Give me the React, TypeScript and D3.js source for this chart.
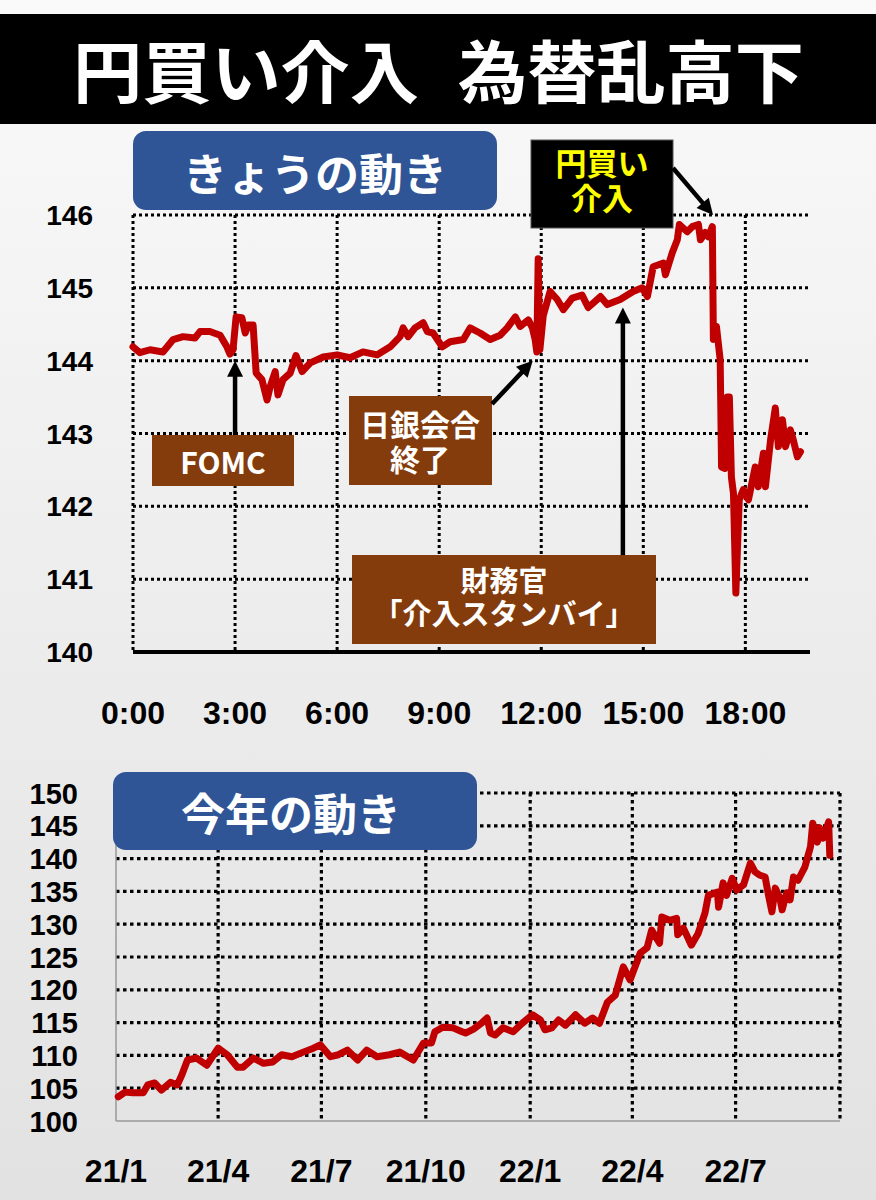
import React from 'react';
import * as d3 from 'd3';

const W = 876;
const H = 1200;
const FONT = "'Noto Sans CJK JP', 'Noto Sans', sans-serif";
const NUMFONT = "'Liberation Sans', Arial, sans-serif";

// ---- きょうの動き (intraday, hours since 0:00) ----
const todayHours = [
  0.0, 0.2, 0.5, 0.88, 1.18, 1.47, 1.82, 1.97, 2.26, 2.56, 2.76, 2.85, 2.94, 3.03, 3.2, 3.3, 3.38, 3.53,
  3.62, 3.79, 3.94, 4.03, 4.18, 4.26, 4.41, 4.62, 4.79, 4.97, 5.21, 5.59, 6.0, 6.38, 6.76, 7.18, 7.56,
  7.85, 7.94, 8.09, 8.29, 8.53, 8.65, 8.82, 9.09, 9.32, 9.71, 9.91, 10.2, 10.5, 10.79, 11.0, 11.24,
  11.38, 11.62, 11.74, 11.82, 11.87, 11.91, 11.96, 12.06, 12.26, 12.47, 12.65, 12.91, 13.2, 13.38,
  13.74, 13.94, 14.32, 14.7, 14.97, 15.12, 15.29, 15.59, 15.65, 15.85, 16.0, 16.06, 16.29, 16.44,
  16.62, 16.68, 16.82, 16.91, 17.03, 17.06, 17.15, 17.26, 17.3, 17.4, 17.47, 17.53, 17.59, 17.65,
  17.72, 17.82, 17.94, 18.09, 18.29, 18.38, 18.53, 18.59, 18.74, 18.88, 18.97, 19.09, 19.18, 19.32,
  19.41, 19.53, 19.62,
];
const todayRates = [
  144.19, 144.11, 144.15, 144.12, 144.29, 144.33, 144.31, 144.4, 144.4, 144.35, 144.19, 144.09, 144.15,
  144.6, 144.59, 144.38, 144.49, 144.49, 143.83, 143.74, 143.46, 143.64, 143.85, 143.53, 143.74, 143.83,
  144.07, 143.85, 143.97, 144.05, 144.08, 144.04, 144.12, 144.08, 144.19, 144.33, 144.45, 144.33,
  144.45, 144.52, 144.4, 144.38, 144.19, 144.26, 144.29, 144.45, 144.38, 144.29, 144.35, 144.45,
  144.6, 144.47, 144.56, 144.45, 144.29, 144.12, 145.4, 144.15, 144.62, 144.95, 144.84, 144.7, 144.86,
  144.9, 144.73, 144.88, 144.77, 144.84, 144.95, 145.0, 144.88, 145.29, 145.34, 145.18, 145.48, 145.66,
  145.87, 145.77, 145.84, 145.87, 145.66, 145.76, 145.7, 145.84, 144.29, 144.47, 144.01, 142.54,
  142.52, 143.5, 143.5, 142.4, 142.18, 140.81, 142.09, 142.23, 142.09, 142.54, 142.27, 142.73, 142.27,
  142.91, 143.35, 142.82, 143.19, 142.82, 143.05, 142.91, 142.68, 142.75,
];
const todayTickHours = [0, 3, 6, 9, 12, 15, 18];
const todayTickLabels = ['0:00', '3:00', '6:00', '9:00', '12:00', '15:00', '18:00'];
const todayYTicks = [140, 141, 142, 143, 144, 145, 146];

// ---- 今年の動き (daily) ----
const yearDates = [
  '2021-01-03', '2021-01-09', '2021-01-16', '2021-01-25', '2021-01-29', '2021-02-04', '2021-02-10',
  '2021-02-18', '2021-02-24', '2021-02-28', '2021-03-05', '2021-03-13', '2021-03-22', '2021-04-01',
  '2021-04-09', '2021-04-18', '2021-04-23', '2021-05-02', '2021-05-11', '2021-05-19', '2021-05-27',
  '2021-06-05', '2021-06-15', '2021-06-24', '2021-06-30', '2021-07-09', '2021-07-16', '2021-07-24',
  '2021-08-02', '2021-08-10', '2021-08-19', '2021-08-30', '2021-09-08', '2021-09-20', '2021-09-29',
  '2021-10-06', '2021-10-09', '2021-10-16', '2021-10-25', '2021-11-02', '2021-11-05', '2021-11-12',
  '2021-11-19', '2021-11-24', '2021-11-27', '2021-12-01', '2021-12-08', '2021-12-17', '2021-12-25',
  '2022-01-03', '2022-01-10', '2022-01-14', '2022-01-20', '2022-01-26', '2022-02-01', '2022-02-10',
  '2022-02-18', '2022-02-25', '2022-03-03', '2022-03-10', '2022-03-17', '2022-03-24', '2022-03-30',
  '2022-04-08', '2022-04-14', '2022-04-18', '2022-04-25', '2022-04-27', '2022-05-04', '2022-05-10',
  '2022-05-11', '2022-05-16', '2022-05-23', '2022-05-29', '2022-06-04', '2022-06-07', '2022-06-15',
  '2022-06-16', '2022-06-20', '2022-06-23', '2022-06-28', '2022-07-02', '2022-07-08', '2022-07-14',
  '2022-07-18', '2022-07-22', '2022-07-27', '2022-07-30', '2022-08-02', '2022-08-05', '2022-08-09',
  '2022-08-11', '2022-08-15', '2022-08-18', '2022-08-21', '2022-08-25', '2022-08-31', '2022-09-05',
  '2022-09-07', '2022-09-11', '2022-09-13', '2022-09-16', '2022-09-21', '2022-09-22',
];
const yearRates = [
  103.7, 104.4, 104.3, 104.3, 105.5, 105.8, 104.7, 105.9, 105.5, 107.0, 109.3, 109.6, 108.5, 111.1,
  110.1, 108.2, 108.2, 109.6, 108.8, 109.0, 110.1, 109.8, 110.5, 111.1, 111.6, 109.8, 110.1, 110.8,
  109.3, 110.8, 109.8, 110.1, 110.5, 109.3, 111.9, 111.9, 113.6, 114.3, 114.2, 113.6, 113.4, 114.0,
  114.9, 115.7, 113.4, 113.1, 114.2, 113.6, 114.9, 116.2, 115.4, 113.9, 114.2, 115.4, 114.6, 116.2,
  114.9, 115.7, 114.9, 118.1, 119.2, 123.5, 121.5, 125.6, 126.4, 129.1, 127.1, 131.1, 130.6, 130.9,
  128.4, 129.4, 126.8, 128.6, 131.7, 134.4, 134.9, 132.6, 136.3, 134.4, 137.0, 135.2, 136.0, 139.3,
  138.0, 137.5, 137.2, 134.4, 131.9, 135.5, 134.0, 132.2, 134.8, 133.7, 137.2, 136.7, 138.7, 141.8,
  145.4, 142.5, 144.7, 143.1, 145.6, 140.5,
];
const yearTickDates = ['2021-04-01', '2021-07-01', '2021-10-01', '2022-01-01', '2022-04-01', '2022-07-01'];
const yearLabelDates = ['2021-01-01', '2021-04-01', '2021-07-01', '2021-10-01', '2022-01-01', '2022-04-01', '2022-07-01'];
const yearTickLabels = ['21/1', '21/4', '21/7', '21/10', '22/1', '22/4', '22/7'];
const yearYTicks = [100, 105, 110, 115, 120, 125, 130, 135, 140, 145, 150];

const RED = '#c00000';
const BLUE = '#2f5597';
const BROWN = '#843c0c';

const parse = d3.timeParse('%Y-%m-%d');

function Arrow({ x1, y1, x2, y2 }: { x1: number; y1: number; x2: number; y2: number }) {
  const dx = x2 - x1;
  const dy = y2 - y1;
  const len = Math.sqrt(dx * dx + dy * dy);
  const ux = dx / len;
  const uy = dy / len;
  const hl = 16;
  const hw = 8;
  const bx = x2 - ux * hl;
  const by = y2 - uy * hl;
  const pts = [
    [x2, y2],
    [bx - uy * hw, by + ux * hw],
    [bx + uy * hw, by - ux * hw],
  ]
    .map((p) => p.join(','))
    .join(' ');
  return (
    <g>
      <line x1={x1} y1={y1} x2={bx + ux * 2} y2={by + uy * 2} stroke="#000" strokeWidth={4.5} />
      <polygon points={pts} fill="#000" />
    </g>
  );
}

function TwoLines({
  x,
  y1,
  y2,
  a,
  b,
  fill,
  size,
}: {
  x: number;
  y1: number;
  y2: number;
  a: string;
  b: string;
  fill: string;
  size: number;
}) {
  return (
    <text textAnchor="middle" fill={fill} fontSize={size} fontWeight={700}>
      <tspan x={x} y={y1 + size * 0.36}>
        {a}
      </tspan>
      <tspan x={x} y={y2 + size * 0.36}>
        {b}
      </tspan>
    </text>
  );
}

export default function App() {
  // top chart scales
  const xT = d3.scaleLinear().domain([0, 19.9]).range([133, 810]);
  const yT = d3.scaleLinear().domain([140, 146]).range([652, 215]);
  // bottom chart scales
  const xY = d3
    .scaleTime()
    .domain([parse('2021-01-01') as Date, parse('2022-10-01') as Date])
    .range([116, 840]);
  const yY = d3.scaleLinear().domain([100, 150]).range([1121, 793]);

  const todayData = todayHours.map((h, i) => [h, todayRates[i]] as [number, number]);
  const yearData = yearDates.map((d, i) => [parse(d) as Date, yearRates[i]] as [Date, number]);

  const lineT = d3
    .line<[number, number]>()
    .x((d) => xT(d[0]))
    .y((d) => yT(d[1]));
  const lineY = d3
    .line<[Date, number]>()
    .x((d) => xY(d[0]))
    .y((d) => yY(d[1]));

  const [x0T, x1T] = xT.range();
  const [yBotT, yTopT] = yT.range();
  const [x0Y, x1Y] = xY.range();
  const [yBotY, yTopY] = yY.range();

  const dotT = { stroke: '#000', strokeWidth: 3, strokeDasharray: '3,3' };
  const dotY = { stroke: '#000', strokeWidth: 3.2, strokeDasharray: '3.5,3.5' };

  return (
    <svg
      width={W}
      height={H}
      viewBox={`0 0 ${W} ${H}`}
      style={{ position: 'absolute', left: 0, top: 0, fontFamily: FONT }}
    >
      <defs>
        <linearGradient id="bg" x1="0" y1="0" x2="0" y2="1">
          <stop offset="0" stopColor="#fafafa" />
          <stop offset="0.45" stopColor="#eeeeee" />
          <stop offset="1" stopColor="#e2e2e2" />
        </linearGradient>
      </defs>
      <rect x={0} y={0} width={W} height={H} fill="url(#bg)" />

      {/* Title bar */}
      <rect x={0} y={14} width={W} height={110} fill="#000" />
      <text
        x={73}
        y={68}
        dominantBaseline="central"
        fill="#fff"
        fontSize={68}
        fontWeight={700}
        textLength={346}
        lengthAdjust="spacingAndGlyphs"
      >
        円買い介入
      </text>
      <text
        x={458}
        y={68}
        dominantBaseline="central"
        fill="#fff"
        fontSize={68}
        fontWeight={700}
        textLength={346}
        lengthAdjust="spacingAndGlyphs"
      >
        為替乱高下
      </text>

      {/* ===== Top chart ===== */}
      <g>
        {todayYTicks
          .filter((v) => v > 140)
          .map((v) => (
            <line key={'hy' + v} x1={x0T} x2={x1T} y1={yT(v)} y2={yT(v)} {...dotT} />
          ))}
        {todayTickHours.map((h) => (
          <line key={'vx' + h} x1={xT(h)} x2={xT(h)} y1={yTopT} y2={yBotT} {...dotT} />
        ))}
        <line x1={x0T} x2={x1T} y1={yBotT} y2={yBotT} stroke="#000" strokeWidth={4} />
        {todayYTicks.map((v) => (
          <text
            key={'ly' + v}
            x={93}
            y={yT(v) + 10}
            textAnchor="end"
            fontFamily={NUMFONT}
            fontSize={28}
            fontWeight={700}
            fill="#000"
          >
            {v}
          </text>
        ))}
        {todayTickHours.map((h, i) => (
          <text
            key={'lx' + h}
            x={xT(h)}
            y={724}
            textAnchor="middle"
            fontFamily={NUMFONT}
            fontSize={32}
            fontWeight={700}
            fill="#000"
          >
            {todayTickLabels[i]}
          </text>
        ))}
        <path
          d={lineT(todayData) || ''}
          fill="none"
          stroke={RED}
          strokeWidth={7}
          strokeLinejoin="round"
          strokeLinecap="round"
        />

        {/* label box */}
        <rect x={133} y={131} width={364} height={79} rx={13} fill={BLUE} />
        <text
          x={315}
          y={172}
          textAnchor="middle"
          dominantBaseline="central"
          fill="#fff"
          fontSize={44}
          fontWeight={700}
        >
          きょうの動き
        </text>

        {/* 円買い介入 */}
        <rect x={531} y={140} width={142} height={88} fill="#000" stroke="#555" strokeWidth={1} />
        <TwoLines x={602} y1={164} y2={199} a="円買い" b="介入" fill="#ffff00" size={31} />
        <Arrow x1={673} y1={168} x2={xT(17.05)} y2={yT(146)} />

        {/* FOMC */}
        <rect x={152} y={435} width={142} height={51} fill={BROWN} />
        <text x={223} y={461} textAnchor="middle" dominantBaseline="central" fill="#fff" fontSize={30} fontWeight={700}>
          FOMC
        </text>
        <Arrow x1={xT(3)} y1={435} x2={xT(3)} y2={yT(144.0)} />

        {/* 日銀会合終了 */}
        <rect x={349} y={396} width={143} height={89} fill={BROWN} />
        <TwoLines x={420} y1={425} y2={460} a="日銀会合" b="終了" fill="#fff" size={30} />
        <Arrow x1={492} y1={404} x2={xT(11.75)} y2={yT(144.0)} />

        {/* 財務官 */}
        <rect x={352} y={555} width={304} height={89} fill={BROWN} />
        <TwoLines x={504} y1={582} y2={615} a="財務官" b="「介入スタンバイ」" fill="#fff" size={29} />
        <Arrow x1={xT(14.4)} y1={555} x2={xT(14.4)} y2={yT(144.73)} />
      </g>

      {/* ===== Bottom chart ===== */}
      <g>
        {yearYTicks
          .filter((v) => v > 100)
          .map((v) => (
            <line key={'hy2' + v} x1={x0Y} x2={x1Y} y1={yY(v)} y2={yY(v)} {...dotY} />
          ))}
        {yearTickDates.map((d) => (
          <line
            key={'vx2' + d}
            x1={xY(parse(d) as Date)}
            x2={xY(parse(d) as Date)}
            y1={yTopY}
            y2={yBotY}
            {...dotY}
          />
        ))}
        <line x1={x1Y} x2={x1Y} y1={yTopY} y2={yBotY} {...dotY} />
        <line x1={x0Y} x2={x0Y} y1={yTopY - 3} y2={yBotY} stroke="#999" strokeWidth={1.5} />
        <line x1={x0Y} x2={x1Y} y1={yBotY} y2={yBotY} stroke="#999" strokeWidth={1.5} />
        {yearYTicks.map((v) => (
          <text
            key={'ly2' + v}
            x={78}
            y={yY(v) + 10.5}
            textAnchor="end"
            fontFamily={NUMFONT}
            fontSize={29}
            fontWeight={700}
            fill="#000"
          >
            {v}
          </text>
        ))}
        {yearLabelDates.map((d, i) => (
          <text
            key={'lx2' + d}
            x={xY(parse(d) as Date)}
            y={1182}
            textAnchor="middle"
            fontFamily={NUMFONT}
            fontSize={32}
            fontWeight={700}
            fill="#000"
          >
            {yearTickLabels[i]}
          </text>
        ))}
        <path
          d={lineY(yearData) || ''}
          fill="none"
          stroke={RED}
          strokeWidth={7}
          strokeLinejoin="round"
          strokeLinecap="round"
        />
        <rect x={113} y={772} width={364} height={78} rx={13} fill={BLUE} />
        <text
          x={291}
          y={812}
          textAnchor="middle"
          dominantBaseline="central"
          fill="#fff"
          fontSize={44}
          fontWeight={700}
        >
          今年の動き
        </text>
      </g>
    </svg>
  );
}
